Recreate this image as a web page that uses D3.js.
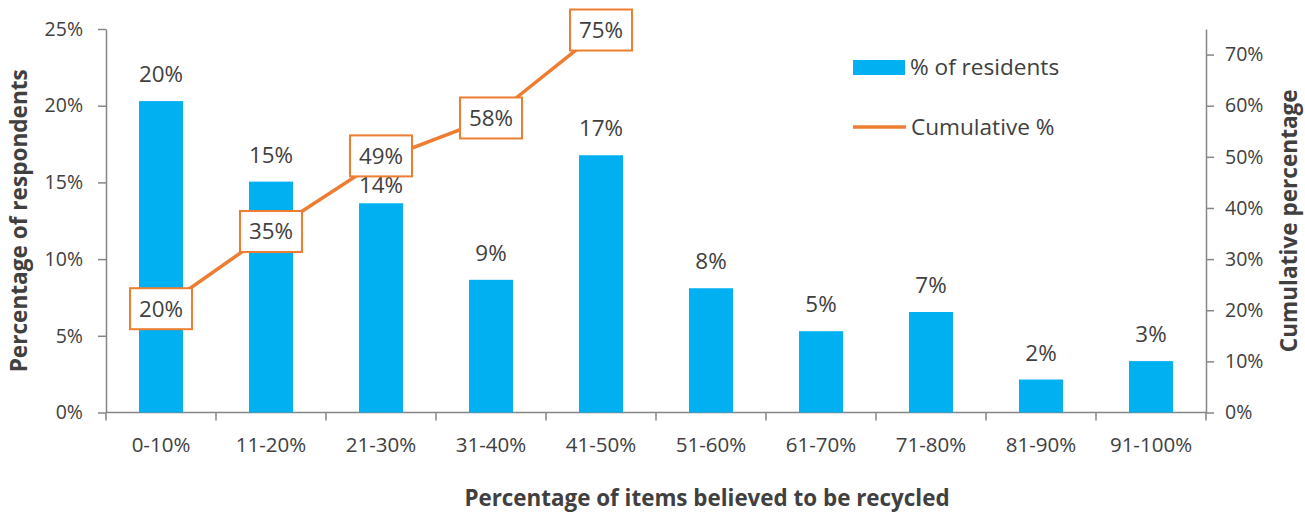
<!DOCTYPE html>
<html>
<head>
<meta charset="utf-8">
<script src="https://cdn.jsdelivr.net/npm/d3@7"></script>
<style>
  body { margin: 0; background: #fff; }
  svg { display: block; }
  text { font-family: "Open Sans", sans-serif; fill: #404040; }
</style>
</head>
<body>
<svg id="chart" width="1305" height="514"></svg>
<script>
// Share of residents by the percentage of items they believe gets recycled
const categories = ["0-10%", "11-20%", "21-30%", "31-40%", "41-50%",
                    "51-60%", "61-70%", "71-80%", "81-90%", "91-100%"];
const residents = [0.203, 0.1505, 0.1364, 0.0865, 0.1677,
                   0.081, 0.053, 0.0655, 0.0215, 0.0335];

// Running total, shown for the first five groups
const cumulativeCategories = ["0-10%", "11-20%", "21-30%", "31-40%", "41-50%"];
const cumulative = [0.203, 0.354, 0.494, 0.576, 0.748];

const leftTicks = [0, 0.05, 0.10, 0.15, 0.20, 0.25];
const rightTicks = [0, 0.1, 0.2, 0.3, 0.4, 0.5, 0.6, 0.7];

const BAR = "#00B0F0", LINE = "#ED7D31", AXIS = "#868686";
const pct = d3.format(".0%");

const svg = d3.select("#chart");
const plotLeft = 106, plotRight = 1206, plotTop = 29, plotBottom = 412.5;

const x = d3.scaleBand().domain(categories).range([plotLeft, plotRight])
  .paddingInner(0.6).paddingOuter(0.3);
const yL = d3.scaleLinear().domain([0, 0.25]).range([plotBottom, plotTop]);
const yR = d3.scaleLinear().domain([0, 0.75]).range([plotBottom, plotTop]);

// Left axis
const gL = svg.append("g").attr("transform", `translate(${plotLeft},0)`)
  .call(d3.axisLeft(yL).tickValues(leftTicks).tickFormat(pct)
    .tickSize(8).tickPadding(15).tickSizeOuter(0));
// Right axis
const gR = svg.append("g").attr("transform", `translate(${plotRight},0)`)
  .call(d3.axisRight(yR).tickValues(rightTicks).tickFormat(pct)
    .tickSize(8).tickPadding(11).tickSizeOuter(0));
[gL, gR].forEach(g => {
  g.select(".domain").attr("stroke", AXIS).attr("stroke-width", 1.5);
  g.selectAll(".tick line").attr("stroke", AXIS).attr("stroke-width", 1.5);
  g.selectAll(".tick text").style("font-size", "19.5px").attr("fill", "#404040");
});

// Bottom axis: labels at band centres, tick marks at band boundaries
const gB = svg.append("g").attr("transform", `translate(0,${plotBottom})`)
  .call(d3.axisBottom(x).tickSize(0).tickPadding(25).tickSizeOuter(0));
gB.select(".domain").attr("stroke", AXIS).attr("stroke-width", 1.5)
  .attr("d", `M${plotLeft},0H${plotRight}`);
gB.selectAll(".tick text").style("font-size", "20.5px").attr("fill", "#404040");
const gap = (x.step() - x.bandwidth()) / 2;
const bounds = categories.map(c => x(c) - gap)
  .concat([x(categories[categories.length - 1]) + x.bandwidth() + gap]);
gB.selectAll("line.bound").data(bounds).join("line").attr("class", "bound")
  .attr("x1", d => d).attr("x2", d => d).attr("y1", 0).attr("y2", 8)
  .attr("stroke", AXIS).attr("stroke-width", 1.5);

// Bars
svg.append("g").selectAll("rect").data(residents).join("rect")
  .attr("x", (d, i) => x(categories[i]))
  .attr("width", x.bandwidth())
  .attr("y", d => yL(d))
  .attr("height", d => plotBottom - yL(d))
  .attr("fill", BAR);

// Bar value labels; the 21-30% label sits a little lower to clear the line label
const barLabelNudge = { "21-30%": 9 };
svg.append("g").selectAll("text").data(residents).join("text")
  .attr("x", (d, i) => x(categories[i]) + x.bandwidth() / 2)
  .attr("y", (d, i) => yL(d) - 19 + (barLabelNudge[categories[i]] || 0))
  .attr("text-anchor", "middle")
  .style("font-size", "22.4px")
  .text(d => pct(d));

// Cumulative line
const cx = c => x(c) + x.bandwidth() / 2;
const line = d3.line().x((d, i) => cx(cumulativeCategories[i])).y(d => yR(d));
svg.append("path").datum(cumulative)
  .attr("d", line).attr("fill", "none")
  .attr("stroke", LINE).attr("stroke-width", 3.5);

// Boxed cumulative labels
const boxW = 62, boxH = 41;
const boxNudge = { "21-30%": -4 };
const boxes = svg.append("g").selectAll("g").data(cumulative).join("g")
  .attr("transform", (d, i) => {
    const c = cumulativeCategories[i];
    return `translate(${cx(c)},${yR(d) + (boxNudge[c] || 0)})`;
  });
boxes.append("rect")
  .attr("x", -boxW / 2).attr("y", -boxH / 2)
  .attr("width", boxW).attr("height", boxH)
  .attr("fill", "#fff").attr("stroke", LINE).attr("stroke-width", 2);
boxes.append("text")
  .attr("text-anchor", "middle").attr("y", 8)
  .style("font-size", "22.4px")
  .text(d => pct(d));

// Legend
const lg = svg.append("g");
lg.append("rect").attr("x", 853).attr("y", 60).attr("width", 52).attr("height", 15).attr("fill", BAR);
lg.append("text").attr("x", 910).attr("y", 67).attr("dy", "0.36em")
  .style("font-size", "22.6px").text("% of residents");
lg.append("line").attr("x1", 853).attr("x2", 906).attr("y1", 127).attr("y2", 127)
  .attr("stroke", LINE).attr("stroke-width", 3.5);
lg.append("text").attr("x", 911).attr("y", 127).attr("dy", "0.36em")
  .style("font-size", "22.6px").text("Cumulative %");

// Axis titles
svg.append("text")
  .attr("transform", `translate(27,${(plotTop + plotBottom) / 2}) rotate(-90)`)
  .attr("text-anchor", "middle").style("font-size", "22.6px").style("font-weight", "bold")
  .text("Percentage of respondents");
svg.append("text")
  .attr("transform", `translate(1297,${(plotTop + plotBottom) / 2}) rotate(-90)`)
  .attr("text-anchor", "middle").style("font-size", "22.6px").style("font-weight", "bold")
  .text("Cumulative percentage");
svg.append("text")
  .attr("x", 707).attr("y", 506)
  .attr("text-anchor", "middle").style("font-size", "22.4px").style("font-weight", "bold")
  .text("Percentage of items believed to be recycled");
</script>
</body>
</html>
